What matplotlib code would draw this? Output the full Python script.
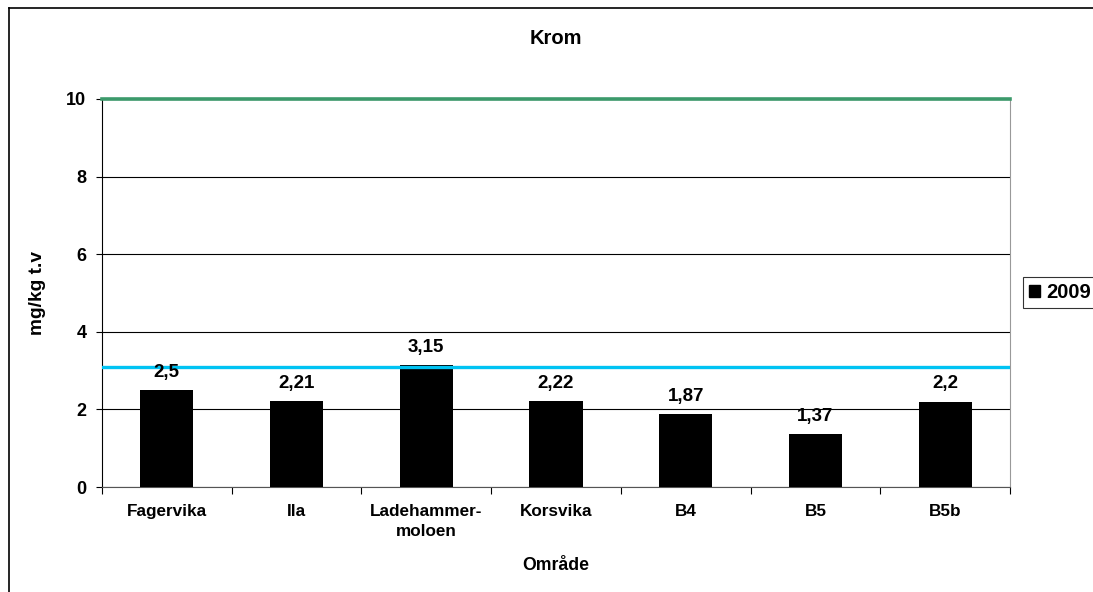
import matplotlib
matplotlib.use("Agg")
import matplotlib.pyplot as plt
from matplotlib.patches import Patch
from matplotlib.lines import Line2D
import numpy as np

categories = ["Fagervika", "Ila", "Ladehammer-\nmoloen", "Korsvika", "B4", "B5", "B5b"]
values_2009 = [2.5, 2.21, 3.15, 2.22, 1.87, 1.37, 2.2]
value_labels = ["2,5", "2,21", "3,15", "2,22", "1,87", "1,37", "2,2"]
series_name = "2009"
limit_green = 10
limit_cyan = 3.08
yticks = [0, 2, 4, 6, 8, 10]

plt.rcParams['font.family'] = ['Liberation Sans', 'DejaVu Sans']
plt.rcParams['font.weight'] = 'bold'

W, H = 1093, 592
fig = plt.figure(figsize=(W/100, H/100), dpi=100)
ax_h = 487 - 99
ax_w = 1010 - 102
ax = fig.add_axes([102/W, 1-487/H, ax_w/W, ax_h/H])

x = np.arange(len(categories))
ax.bar(x, values_2009, width=0.41, color='black', zorder=3)
ax.set_xlim(-0.5, len(categories)-0.5)
ax.set_ylim(0, 10)

for xi, v, lab in zip(x, values_2009, value_labels):
    ax.annotate(lab, (xi, v), xytext=(0, 9.5), textcoords='offset points',
                ha='center', va='baseline', fontsize=13.5, fontweight='bold', zorder=5)

ax.axhline(limit_green, color='#3C9A6B', lw=2.6, zorder=4, clip_on=False)
ax.axhline(limit_cyan, color='#00C3F3', lw=2.4, zorder=4)

ax.set_yticks(yticks)
ax.set_yticklabels([str(t) for t in yticks], fontsize=13, fontweight='bold')
ax.yaxis.grid(True, color='black', lw=0.8, zorder=0)
ax.tick_params(axis='y', length=4.3, width=0.8, pad=7)

ax.set_xticks(x)
ax.set_xticklabels(categories, fontsize=12.3, fontweight='bold', linespacing=1.45)
ax.set_xticks(np.arange(len(categories)+1) - 0.5, minor=True)
ax.tick_params(axis='x', which='major', length=0, pad=12)
ax.tick_params(axis='x', which='minor', length=5, width=0.8)

ax.spines['top'].set_visible(False)
ax.spines['right'].set_color('#999999')
ax.spines['bottom'].set_color('#555555')
ax.spines['left'].set_color('black')

fig.text(0.5*(102+1010)/W, 1-38/H, "Krom", fontsize=14.5, fontweight='bold',
         ha='center', va='center')
ax.set_xlabel("Område", fontsize=12.7, fontweight='bold', va='center', ha='center')
ax.xaxis.set_label_coords(0.5, -(566-487)/ax_h)
ax.set_ylabel("mg/kg t.v", fontsize=13.8, fontweight='bold', va='center', ha='center')
ax.yaxis.set_label_coords(-(102-38)/ax_w, 0.5)

leg = fig.legend(handles=[Patch(facecolor='black', edgecolor='black', label=series_name)],
                 loc='upper left', bbox_to_anchor=(1023/W, 1-277/H),
                 frameon=True, fancybox=False, edgecolor='black', fontsize=14.5,
                 handlelength=0.55, handleheight=0.55, handletextpad=0.3,
                 borderpad=0.3, borderaxespad=0)
leg.get_frame().set_linewidth(0.8)
for t in leg.get_texts():
    t.set_fontweight('bold')

# figure border
fig.add_artist(Line2D([9/W, 9/W], [0, 1-8/H], color='black', lw=1.2, transform=fig.transFigure))
fig.add_artist(Line2D([9/W, 1], [1-8/H, 1-8/H], color='black', lw=1.2, transform=fig.transFigure))

fig.savefig("out.png", dpi=100)
